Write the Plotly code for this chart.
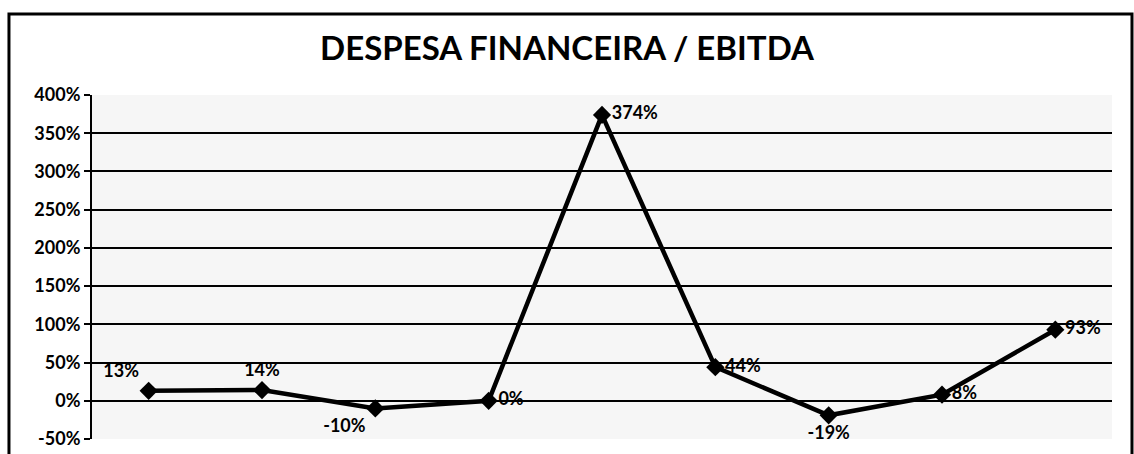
import plotly.graph_objects as go

categories = ["P1", "P2", "P3", "P4", "P5", "P6", "P7", "P8", "P9"]
values = [0.13, 0.14, -0.10, 0.00, 3.74, 0.44, -0.19, 0.08, 0.93]
labels = ["13%", "14%", "-10%", "0%", "374%", "44%", "-19%", "8%", "93%"]
label_pos = ["top left", "top center", "bottom left", "middle right", "middle right",
             "middle right", "bottom center", "middle right", "middle right"]
tick_vals = [-0.5, 0, 0.5, 1.0, 1.5, 2.0, 2.5, 3.0, 3.5, 4.0]
tick_text = ["-50%", "0%", "50%", "100%", "150%", "200%", "250%", "300%", "350%", "400%"]

fig = go.Figure()
fig.add_trace(go.Scatter(
    x=categories, y=values, mode="lines+markers+text",
    text=labels, textposition=label_pos,
    textfont=dict(family="Lato", size=18, color="black", weight="bold"),
    line=dict(color="black", width=4.5),
    marker=dict(symbol="diamond", size=14, color="black"),
    cliponaxis=False,
))

fig.update_layout(
    width=1134, height=454,
    margin=dict(l=92, r=22, t=95, b=15, autoexpand=False),
    paper_bgcolor="white", plot_bgcolor="#f6f6f6",
    showlegend=False,
    title=dict(text="DESPESA FINANCEIRA / EBITDA", x=0.5, xanchor="center",
               y=0.894, yanchor="middle",
               font=dict(family="Lato", size=33, color="black", weight="bold")),
    font=dict(family="Lato", color="black"),
)
fig.update_xaxes(type="category", range=[-0.5, 8.5], showticklabels=False,
                 showgrid=False, zeroline=False, showline=False, automargin=False)
fig.update_yaxes(range=[-0.5, 4.0], tickvals=tick_vals, ticktext=tick_text,
                 showgrid=True, gridcolor="black", gridwidth=2, automargin=False,
                 zeroline=False, showline=True, linecolor="black", linewidth=2,
                 ticks="outside", ticklen=6, tickcolor="black", tickwidth=2,
                 tickfont=dict(family="Lato", size=18, color="black", weight="bold"))

fig.add_shape(type="rect", xref="paper", yref="paper",
              x0=-0.0814, x1=1.0196, y0=-0.1, y1=1.2355,
              line=dict(color="black", width=3), fillcolor="rgba(0,0,0,0)", layer="below")

fig.write_html("out.html", config={"displayModeBar": False},
               post_script="document.body.style.margin='0';document.body.style.overflow='hidden';")
